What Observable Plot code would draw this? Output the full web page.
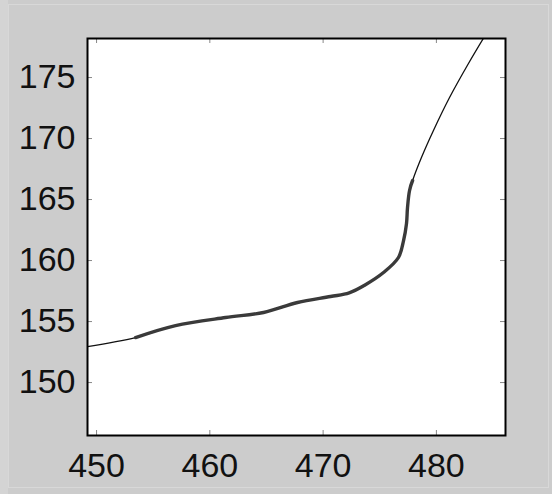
<!DOCTYPE html>
<html><head><meta charset="utf-8">
<script src="https://cdn.jsdelivr.net/npm/d3@7"></script>
<script src="https://cdn.jsdelivr.net/npm/@observablehq/plot@0.6"></script>
<style>
html,body{margin:0;padding:0;background:#cccccc;}
#wrap{position:relative;width:552px;height:494px;overflow:hidden;}
#chart svg{display:block;}
#edge{position:absolute;left:0;top:0;width:8px;height:494px;background:#d4d4d4;}
#frame{position:absolute;left:8px;top:4px;right:3px;bottom:6px;border:1px solid #d8d8d8;pointer-events:none;}
</style></head><body><div id="wrap"><div id="chart"></div><div id="edge"></div><div id="frame"></div></div>
<script>
// thin fitted curve across the whole range
const fitX = [449.2, 453.44, 456.97, 461.39, 464.74, 467.74, 470.65, 472.3, 473.7, 475.33, 476.65, 477.1, 477.36, 477.45, 477.63, 477.9, 478.68, 479.74, 481.16, 482.83, 484.4];
const fitY = [152.95, 153.69, 154.67, 155.33, 155.74, 156.56, 157.05, 157.35, 158.0, 159.02, 160.25, 161.64, 163.03, 164.34, 165.74, 166.56, 168.44, 170.66, 173.36, 176.15, 178.6];
// dense measured data (drawn thicker)
const dataX = [453.44, 456.97, 461.39, 464.74, 467.74, 470.65, 472.3, 473.7, 475.33, 476.65, 477.1, 477.36, 477.45, 477.63, 477.9];
const dataY = [153.69, 154.67, 155.33, 155.74, 156.56, 157.05, 157.35, 158.0, 159.02, 160.25, 161.64, 163.03, 164.34, 165.74, 166.56];
const xTicks = [450, 460, 470, 480];
const yTicks = [150, 155, 160, 165, 170, 175];

const fit = fitX.map((x, i) => ({x, y: fitY[i]}));
const data = dataX.map((x, i) => ({x, y: dataY[i]}));

const W = 552, H = 494, mL = 87, mR = 47, mT = 38, mB = 59;
const iw = W - mL - mR, ih = H - mT - mB;
const tl = 5;

const chart = Plot.plot({
  width: W, height: H,
  marginLeft: mL, marginRight: mR, marginTop: mT, marginBottom: mB,
  x: {domain: [449.2, 486.1]},
  y: {domain: [145.66, 178.2]},
  style: {background: "#cccccc", fontFamily: "'Liberation Sans', Arial, sans-serif", fontSize: "34px", color: "#111"},
  marks: [
    Plot.frame({fill: "white", stroke: null}),
    Plot.tickX(xTicks, {x: d => d, insetTop: ih - tl, stroke: "#888"}),
    Plot.tickX(xTicks, {x: d => d, insetBottom: ih - tl, stroke: "#888"}),
    Plot.tickY(yTicks, {y: d => d, insetRight: iw - tl, stroke: "#888"}),
    Plot.tickY(yTicks, {y: d => d, insetLeft: iw - tl, stroke: "#888"}),
    Plot.line(fit, {x: "x", y: "y", stroke: "#111", strokeWidth: 1.3, curve: "catmull-rom", clip: true}),
    Plot.line(data, {x: "x", y: "y", stroke: "#3a3a3a", strokeWidth: 3.4, curve: "catmull-rom", clip: true}),
    Plot.frame({stroke: "black", strokeWidth: 2}),
    Plot.axisX(xTicks, {tickSize: 0, tickPadding: 17, fontSize: 34, label: null, fill: "#111"}),
    Plot.axisY(yTicks, {tickSize: 0, tickPadding: 12, fontSize: 34, label: null, fill: "#111"})
  ]
});
document.getElementById("chart").appendChild(chart);
</script></body></html>
